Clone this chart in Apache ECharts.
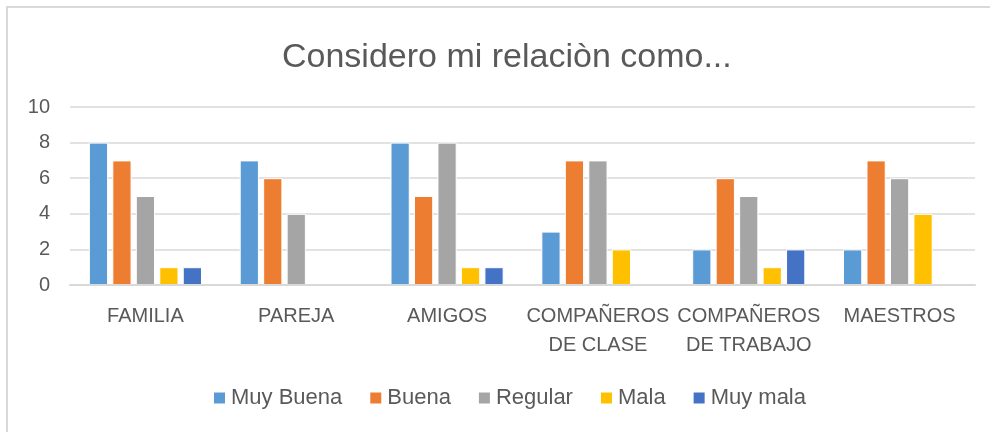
<!DOCTYPE html>
<html>
<head>
<meta charset="utf-8">
<script src="https://cdn.jsdelivr.net/npm/echarts@6/dist/echarts.min.js"></script>
<style>
  html, body { margin: 0; padding: 0; background: #fff; }
  #chart { width: 990px; height: 432px; }
</style>
</head>
<body>
<div id="chart"></div>
<script>
// categorias y valores
const categorias = ['FAMILIA', 'PAREJA', 'AMIGOS', 'COMPAÑEROS\nDE CLASE', 'COMPAÑEROS\nDE TRABAJO', 'MAESTROS']
const muyBuena = [8, 7, 8, 3, 2, 2]
const buena = [7, 6, 5, 7, 6, 7]
const regular = [5, 4, 8, 7, 5, 6]
const mala = [1, 0, 1, 2, 1, 4]
const muyMala = [1, 0, 1, 0, 2, 0]

const fuente = 'Liberation Sans'
const gris = '#595959'

const chart = echarts.init(document.getElementById('chart'))

const serie = (name, data) => ({
  name: name,
  type: 'bar',
  data: data,
  barGap: '22%',
  barCategoryGap: '25%',
  itemStyle: { borderColor: '#fff', borderWidth: 1 }
})

chart.setOption({
  animation: false,
  color: ['#5b9bd5', '#ed7d31', '#a5a5a5', '#ffc000', '#4472c4'],
  graphic: [{
    type: 'rect',
    shape: { x: 7, y: 7, width: 1000, height: 500 },
    style: { fill: 'none', stroke: '#d9d9d9', lineWidth: 2 }
  }],
  title: {
    text: 'Considero mi relaciòn como...',
    left: 277,
    top: 36,
    textStyle: { fontFamily: fuente, fontSize: 34, fontWeight: 'normal', color: gris }
  },
  legend: {
    bottom: 18,
    left: 207,
    itemWidth: 13,
    itemHeight: 13,
    itemGap: 26,
    icon: 'rect',
    textStyle: { fontFamily: fuente, fontSize: 22, color: gris }
  },
  grid: { left: 70, right: 15, top: 107, bottom: 147 },
  xAxis: {
    type: 'category',
    data: categorias,
    z: 10,
    axisLine: { lineStyle: { color: '#d9d9d9', width: 2 } },
    axisTick: { show: false },
    axisLabel: {
      interval: 0,
      margin: 17,
      lineHeight: 29,
      fontFamily: fuente,
      fontSize: 20,
      color: gris
    }
  },
  yAxis: {
    type: 'value',
    min: 0,
    max: 10,
    interval: 2,
    axisLine: { show: false },
    axisTick: { show: false },
    axisLabel: { margin: 20, fontFamily: fuente, fontSize: 20, color: gris },
    splitLine: { lineStyle: { color: '#d9d9d9', width: 1.5 } }
  },
  series: [
    serie('Muy Buena', muyBuena),
    serie('Buena', buena),
    serie('Regular', regular),
    serie('Mala', mala),
    serie('Muy mala', muyMala)
  ]
})
</script>
</body>
</html>
